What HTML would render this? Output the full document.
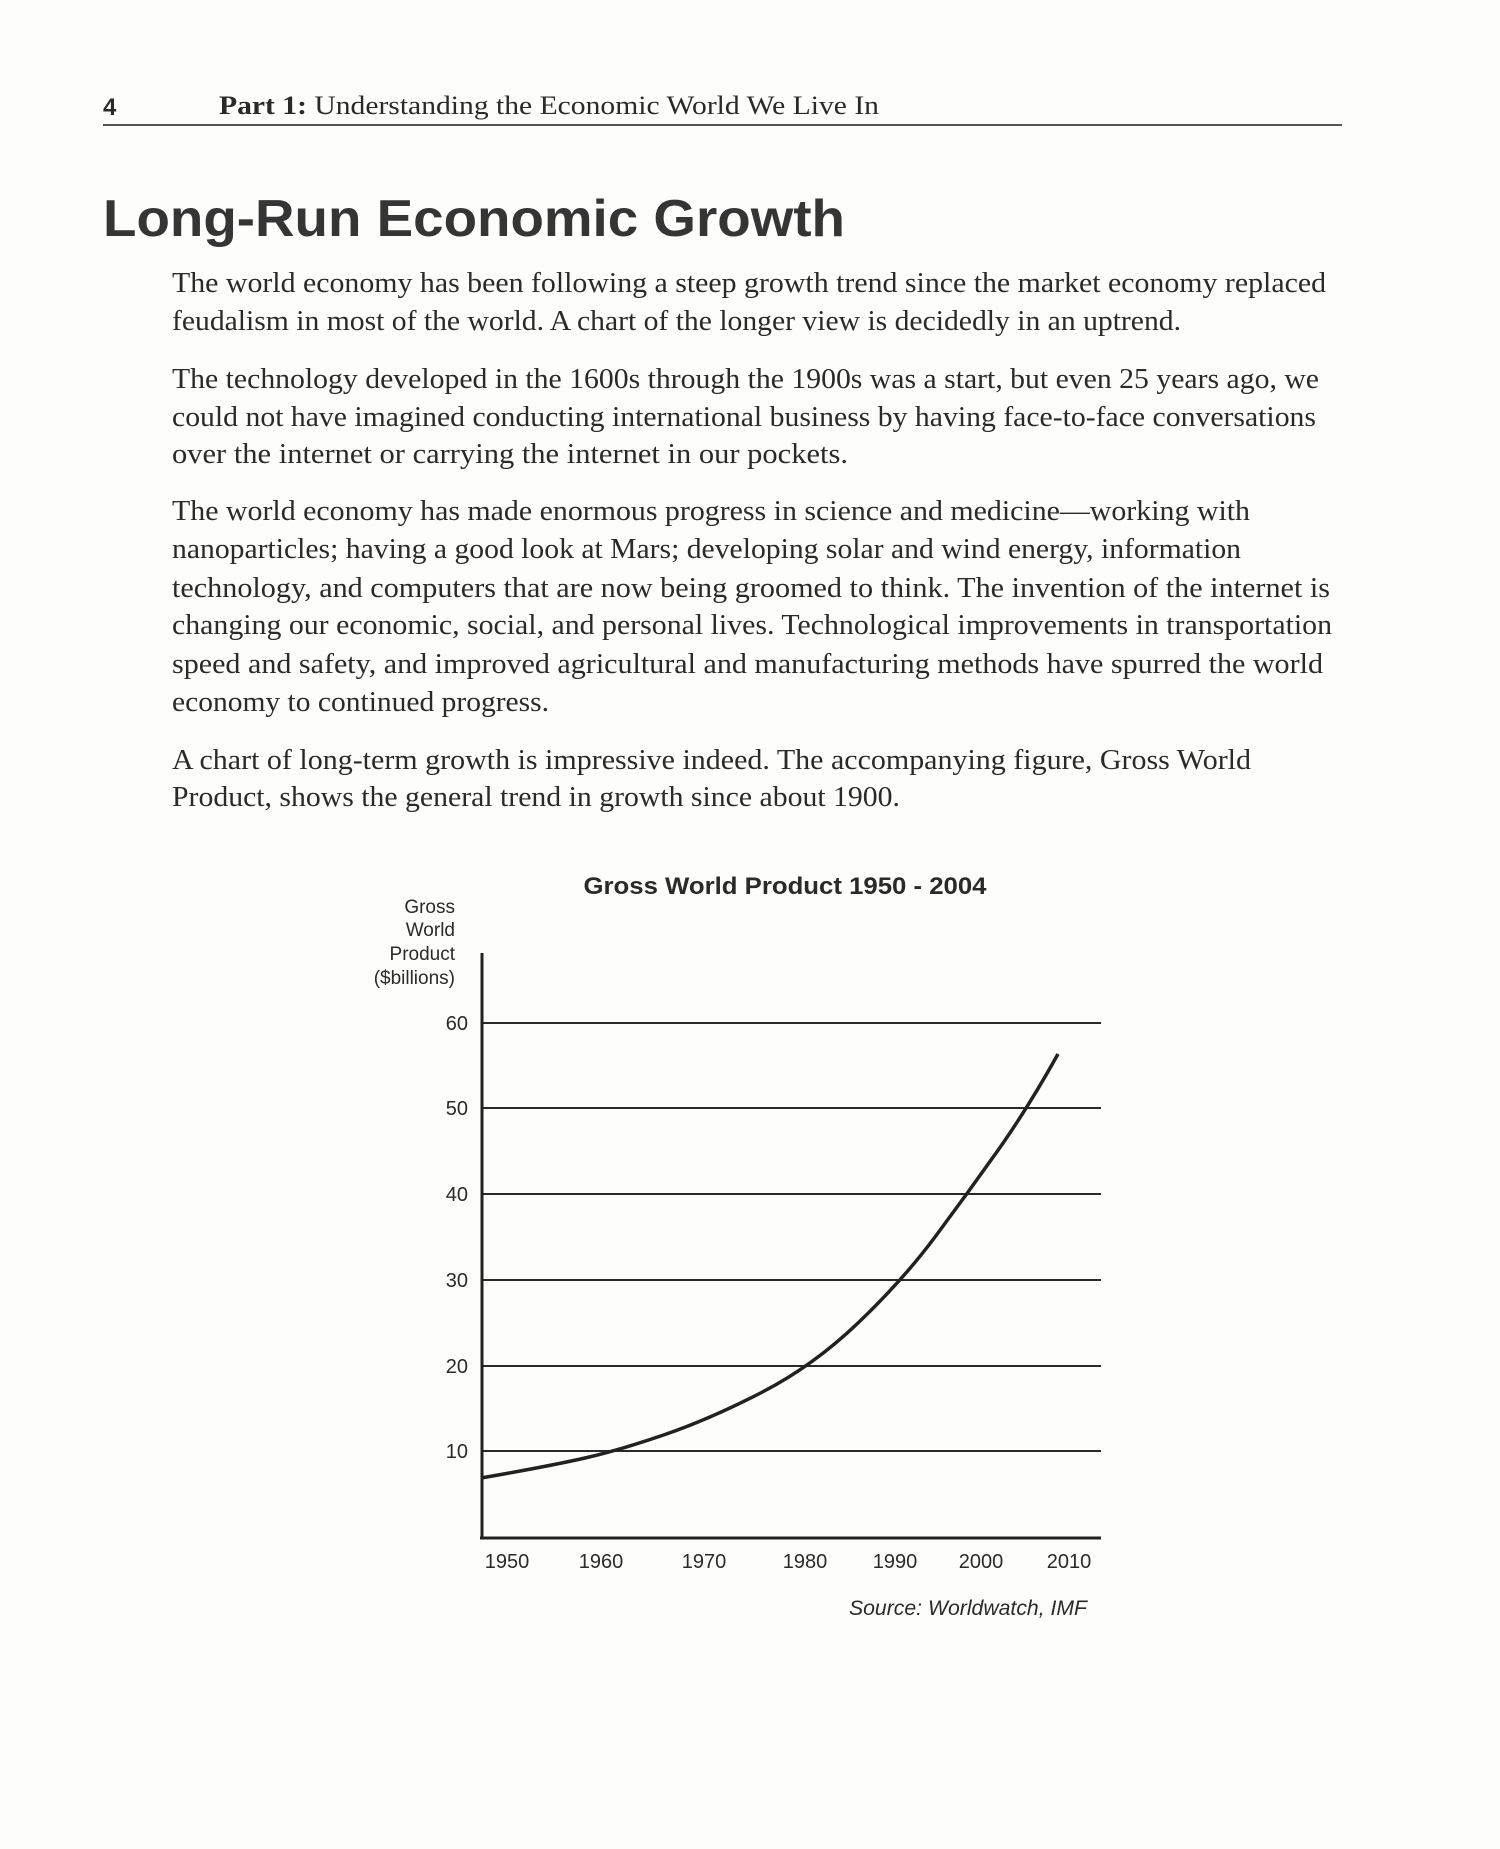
<!DOCTYPE html>
<html><head><meta charset="utf-8"><style>html,body{margin:0;padding:0;background:#fff}svg{display:block}</style></head><body>
<svg width="1500" height="1849" viewBox="0 0 1500 1849" xmlns="http://www.w3.org/2000/svg">
<rect width="1500" height="1849" fill="#fdfdfb"/>
<g font-family="Liberation Serif, serif" fill="#2a2a2a">
<text x="103" y="115" font-family="Liberation Sans, sans-serif" font-weight="bold" font-size="24">4</text>
<text x="219" y="114" font-size="26" textLength="660" lengthAdjust="spacingAndGlyphs"><tspan font-weight="bold">Part 1:</tspan> Understanding the Economic World We Live In</text>
</g>
<line x1="103" y1="125" x2="1342" y2="125" stroke="#555" stroke-width="2"/>
<text x="103" y="236" font-family="Liberation Sans, sans-serif" font-weight="bold" font-size="52" fill="#353535" textLength="742" lengthAdjust="spacingAndGlyphs">Long-Run Economic Growth</text>
<g font-family="Liberation Serif, serif" font-size="28" fill="#2a2a2a">
<text x="172" y="292" textLength="1154" lengthAdjust="spacingAndGlyphs">The world economy has been following a steep growth trend since the market economy replaced</text>
<text x="172" y="330" textLength="1009" lengthAdjust="spacingAndGlyphs">feudalism in most of the world. A chart of the longer view is decidedly in an uptrend.</text>
<text x="172" y="388" textLength="1147" lengthAdjust="spacingAndGlyphs">The technology developed in the 1600s through the 1900s was a start, but even 25 years ago, we</text>
<text x="172" y="426" textLength="1144" lengthAdjust="spacingAndGlyphs">could not have imagined conducting international business by having face-to-face conversations</text>
<text x="172" y="463" textLength="676" lengthAdjust="spacingAndGlyphs">over the internet or carrying the internet in our pockets.</text>
<text x="172" y="520" textLength="1078" lengthAdjust="spacingAndGlyphs">The world economy has made enormous progress in science and medicine—working with</text>
<text x="172" y="558" textLength="1069" lengthAdjust="spacingAndGlyphs">nanoparticles; having a good look at Mars; developing solar and wind energy, information</text>
<text x="172" y="597" textLength="1158" lengthAdjust="spacingAndGlyphs">technology, and computers that are now being groomed to think. The invention of the internet is</text>
<text x="172" y="634" textLength="1160" lengthAdjust="spacingAndGlyphs">changing our economic, social, and personal lives. Technological improvements in transportation</text>
<text x="172" y="673" textLength="1151" lengthAdjust="spacingAndGlyphs">speed and safety, and improved agricultural and manufacturing methods have spurred the world</text>
<text x="172" y="711" textLength="377" lengthAdjust="spacingAndGlyphs">economy to continued progress.</text>
<text x="172" y="769" textLength="1079" lengthAdjust="spacingAndGlyphs">A chart of long-term growth is impressive indeed. The accompanying figure, Gross World</text>
<text x="172" y="806" textLength="728" lengthAdjust="spacingAndGlyphs">Product, shows the general trend in growth since about 1900.</text>
</g>
<g font-family="Liberation Sans, sans-serif" fill="#2a2a2a">
<text x="785" y="894" text-anchor="middle" font-weight="bold" font-size="24" textLength="403" lengthAdjust="spacingAndGlyphs">Gross World Product 1950 - 2004</text>
<g font-size="19" text-anchor="end">
<text x="455" y="913">Gross</text>
<text x="455" y="936">World</text>
<text x="455" y="960">Product</text>
<text x="455" y="984">($billions)</text>
</g>
<g font-size="20" text-anchor="end">
<text x="468" y="1030">60</text>
<text x="468" y="1115">50</text>
<text x="468" y="1201">40</text>
<text x="468" y="1287">30</text>
<text x="468" y="1373">20</text>
<text x="468" y="1458">10</text>
</g>
<g font-size="20" text-anchor="middle">
<text x="507" y="1568">1950</text>
<text x="601" y="1568">1960</text>
<text x="704" y="1568">1970</text>
<text x="805" y="1568">1980</text>
<text x="895" y="1568">1990</text>
<text x="981" y="1568">2000</text>
<text x="1069" y="1568">2010</text>
</g>
<text x="1087" y="1615" text-anchor="end" font-size="21" font-style="italic" textLength="238" lengthAdjust="spacingAndGlyphs">Source: Worldwatch, IMF</text>
</g>
<g stroke="#2a2a2a" stroke-width="2">
<line x1="481" y1="1023" x2="1101" y2="1023"/>
<line x1="481" y1="1108" x2="1101" y2="1108"/>
<line x1="481" y1="1194" x2="1101" y2="1194"/>
<line x1="481" y1="1280" x2="1101" y2="1280"/>
<line x1="481" y1="1366" x2="1101" y2="1366"/>
<line x1="481" y1="1451" x2="1101" y2="1451"/>
</g>
<line x1="482" y1="953" x2="482" y2="1539" stroke="#222" stroke-width="3"/>
<line x1="480" y1="1538" x2="1101" y2="1538" stroke="#222" stroke-width="3"/>
<path d="M481,1478 Q550,1466 585,1458 Q620,1450 665,1434.5 Q710,1419 761.5,1392.5 Q813,1366 858,1323 Q903,1280 935,1237 Q967,1194 997.5,1151 Q1028,1108 1058,1054" fill="none" stroke="#222" stroke-width="3.5"/>
</svg>
</body></html>
